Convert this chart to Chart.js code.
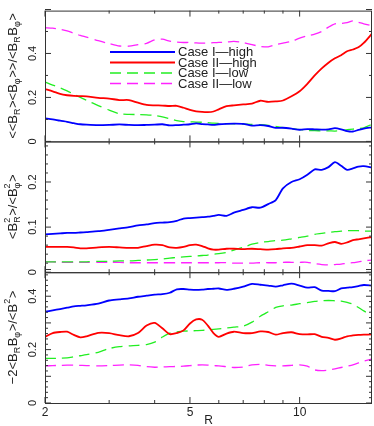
<!DOCTYPE html>
<html>
<head>
<meta charset="utf-8">
<script src="https://cdn.jsdelivr.net/npm/chart.js@4"></script>
<style>
  html, body { margin: 0; padding: 0; background: #fff; }
</style>
</head>
<body>
<canvas id="chart" width="374" height="426"></canvas>
<script>
// radius samples (shared by every curve)
const radius = [2, 2.1, 2.2, 2.3, 2.4, 2.5, 2.6, 2.8, 3.0, 3.2, 3.4, 3.6, 3.8, 4.0, 4.2, 4.4, 4.6, 4.8, 5.0, 5.2, 5.4, 5.6, 5.8, 6.0, 6.3, 6.6, 7.0, 7.4, 7.8, 8.2, 8.6, 9.0, 9.5, 10, 10.5, 11, 11.5, 12, 12.5, 13, 13.5, 14, 14.5, 15, 15.8];

// top panel: <<B_R><B_phi>>/<B_R B_phi>
const topIHigh = [0.105, 0.100, 0.094, 0.089, 0.083, 0.078, 0.076, 0.074, 0.075, 0.077, 0.075, 0.074, 0.075, 0.076, 0.078, 0.073, 0.074, 0.076, 0.078, 0.082, 0.079, 0.077, 0.075, 0.078, 0.080, 0.081, 0.080, 0.072, 0.074, 0.070, 0.062, 0.062, 0.058, 0.053, 0.056, 0.055, 0.054, 0.055, 0.060, 0.055, 0.047, 0.045, 0.052, 0.058, 0.064];
const topIIHigh = [0.238, 0.228, 0.216, 0.210, 0.207, 0.206, 0.205, 0.198, 0.195, 0.188, 0.188, 0.176, 0.166, 0.164, 0.163, 0.161, 0.162, 0.153, 0.143, 0.137, 0.134, 0.133, 0.136, 0.146, 0.160, 0.164, 0.168, 0.172, 0.185, 0.180, 0.182, 0.186, 0.205, 0.228, 0.262, 0.300, 0.332, 0.358, 0.378, 0.392, 0.410, 0.418, 0.428, 0.448, 0.490];
const topILow = [0.270, 0.256, 0.244, 0.230, 0.214, 0.200, 0.187, 0.163, 0.142, 0.126, 0.123, 0.122, 0.121, 0.118, 0.112, 0.103, 0.094, 0.090, 0.089, 0.088, 0.087, 0.085, 0.083, 0.082, 0.081, 0.080, 0.079, 0.077, 0.076, 0.073, 0.068, 0.063, 0.058, 0.054, 0.050, 0.049, 0.048, 0.048, 0.047, 0.049, 0.053, 0.056, 0.058, 0.062, 0.078];
const topIILow = [0.517, 0.515, 0.510, 0.503, 0.492, 0.482, 0.474, 0.458, 0.445, 0.434, 0.433, 0.440, 0.446, 0.462, 0.465, 0.456, 0.452, 0.450, 0.450, 0.448, 0.447, 0.447, 0.449, 0.450, 0.452, 0.455, 0.450, 0.440, 0.432, 0.430, 0.440, 0.447, 0.455, 0.470, 0.480, 0.488, 0.500, 0.520, 0.535, 0.537, 0.540, 0.548, 0.542, 0.535, 0.527];

// middle panel: <B_R^2>/<B_phi^2>
const midIHigh = [0.084, 0.085, 0.086, 0.087, 0.087, 0.088, 0.089, 0.091, 0.094, 0.097, 0.100, 0.104, 0.106, 0.109, 0.110, 0.111, 0.114, 0.119, 0.120, 0.121, 0.122, 0.123, 0.125, 0.127, 0.125, 0.132, 0.138, 0.144, 0.143, 0.151, 0.160, 0.186, 0.200, 0.206, 0.216, 0.228, 0.227, 0.233, 0.244, 0.236, 0.227, 0.230, 0.234, 0.235, 0.232];
const midIIHigh = [0.056, 0.056, 0.056, 0.056, 0.055, 0.053, 0.053, 0.055, 0.056, 0.055, 0.054, 0.054, 0.058, 0.061, 0.060, 0.055, 0.054, 0.056, 0.060, 0.061, 0.058, 0.053, 0.050, 0.050, 0.052, 0.052, 0.051, 0.052, 0.051, 0.050, 0.051, 0.053, 0.054, 0.057, 0.060, 0.060, 0.059, 0.064, 0.067, 0.063, 0.066, 0.071, 0.073, 0.075, 0.078];
const midILow = [0.023, 0.023, 0.023, 0.023, 0.023, 0.023, 0.023, 0.024, 0.024, 0.025, 0.025, 0.026, 0.027, 0.028, 0.029, 0.031, 0.033, 0.034, 0.035, 0.036, 0.037, 0.038, 0.040, 0.041, 0.044, 0.049, 0.055, 0.062, 0.066, 0.068, 0.070, 0.071, 0.074, 0.077, 0.080, 0.084, 0.086, 0.088, 0.090, 0.091, 0.092, 0.092, 0.092, 0.091, 0.091];
const midIILow = [0.023, 0.023, 0.022, 0.022, 0.022, 0.022, 0.022, 0.022, 0.022, 0.022, 0.021, 0.021, 0.021, 0.021, 0.021, 0.021, 0.021, 0.021, 0.021, 0.021, 0.021, 0.021, 0.021, 0.021, 0.021, 0.020, 0.020, 0.020, 0.021, 0.021, 0.021, 0.022, 0.022, 0.022, 0.022, 0.019, 0.017, 0.016, 0.017, 0.018, 0.020, 0.021, 0.023, 0.025, 0.027];

// bottom panel: -2<B_R B_phi>/<B^2>
const botIHigh = [0.342, 0.347, 0.352, 0.357, 0.362, 0.364, 0.366, 0.372, 0.384, 0.388, 0.392, 0.398, 0.402, 0.406, 0.408, 0.413, 0.426, 0.427, 0.425, 0.424, 0.425, 0.427, 0.428, 0.429, 0.424, 0.428, 0.436, 0.446, 0.443, 0.440, 0.436, 0.441, 0.447, 0.440, 0.432, 0.434, 0.421, 0.420, 0.419, 0.429, 0.432, 0.434, 0.438, 0.442, 0.440];
const botIIHigh = [0.248, 0.262, 0.266, 0.267, 0.255, 0.246, 0.250, 0.263, 0.262, 0.254, 0.250, 0.262, 0.290, 0.300, 0.280, 0.258, 0.262, 0.272, 0.298, 0.313, 0.312, 0.290, 0.262, 0.248, 0.260, 0.267, 0.262, 0.262, 0.268, 0.266, 0.256, 0.262, 0.265, 0.258, 0.257, 0.258, 0.248, 0.244, 0.237, 0.242, 0.250, 0.253, 0.255, 0.256, 0.257];
const botILow = [0.167, 0.167, 0.168, 0.169, 0.173, 0.177, 0.181, 0.190, 0.204, 0.211, 0.214, 0.216, 0.219, 0.228, 0.247, 0.262, 0.266, 0.269, 0.270, 0.271, 0.272, 0.274, 0.276, 0.278, 0.281, 0.284, 0.288, 0.303, 0.325, 0.342, 0.358, 0.364, 0.367, 0.372, 0.376, 0.381, 0.383, 0.384, 0.383, 0.382, 0.377, 0.370, 0.358, 0.345, 0.328];
const botIILow = [0.139, 0.140, 0.141, 0.142, 0.142, 0.141, 0.140, 0.139, 0.140, 0.142, 0.143, 0.141, 0.136, 0.134, 0.135, 0.136, 0.137, 0.138, 0.140, 0.142, 0.143, 0.142, 0.140, 0.139, 0.136, 0.133, 0.135, 0.143, 0.145, 0.141, 0.139, 0.139, 0.141, 0.143, 0.138, 0.124, 0.121, 0.123, 0.128, 0.133, 0.138, 0.143, 0.150, 0.157, 0.165];

const caseLabels = ["Case I\u2014high", "Case II\u2014high", "Case I\u2014low", "Case II\u2014low"];

// axis ticks
const xMajorTicks = [2, 5, 10];
const xMinorTicks = [3, 4, 6, 7, 8, 9];
const topTicks = [0, 0.2, 0.4];
const midTicks = [0, 0.1, 0.2];
const botTicks = [0, 0.1, 0.2, 0.3, 0.4];

const family = "'Liberation Sans', Arial, sans-serif";
const ink = "#222";

const caseStyles = [
   { color: "#0000ff", width: 1.8, dash: [] },
   { color: "#ff0000", width: 1.8, dash: [] },
   { color: "#22ee22", width: 1.3, dash: [11, 6] },
   { color: "#ff22ff", width: 1.3, dash: [11, 6] }
];

function makeSets(axisId, seriesList, withLabel) {
   return seriesList.map((values, i) => ({
      label: withLabel ? caseLabels[i] : "",
      data: radius.map((r, k) => ({ x: r, y: values[k] })),
      yAxisID: axisId,
      borderColor: caseStyles[i].color,
      borderWidth: caseStyles[i].width,
      borderDash: caseStyles[i].dash,
      pointRadius: 0,
      tension: 0.25,
      fill: false
   }));
}

const datasets = [].concat(
   makeSets("yTop", [topIHigh, topIIHigh, topILow, topIILow], true),
   makeSets("yMid", [midIHigh, midIIHigh, midILow, midIILow], false),
   makeSets("yBot", [botIHigh, botIIHigh, botILow, botIILow], false)
);

function panelScale(tickValues, max) {
   return {
      type: "linear",
      position: "left",
      stack: "panels",
      stackWeight: 1,
      min: 0,
      max: max,
      afterBuildTicks: s => { s.ticks = tickValues.map(v => ({ value: v })); },
      afterFit: s => { s.width = 45; },
      grid: { display: false, drawTicks: false },
      border: { display: false },
      ticks: {
         font: { size: 11, family: family },
         color: ink,
         padding: 4,
         minRotation: 90,
         maxRotation: 90,
         crossAlign: "center",
         callback: v => String(v)
      }
   };
}

const minorStep = { yTop: 0.1, yMid: 0.02, yBot: 0.02 };
const majorStep = { yTop: 0.2, yMid: 0.1, yBot: 0.1 };

// frame + inward ticks on every panel
const framePlugin = {
   id: "frame",
   afterDatasetsDraw(chart) {
      const ctx = chart.ctx;
      const area = chart.chartArea;
      const xs = chart.scales.x;
      ctx.save();
      ctx.strokeStyle = "#333";
      ctx.lineWidth = 1;
      ["yTop", "yMid", "yBot"].forEach(id => {
         const s = chart.scales[id];
         ctx.strokeRect(area.left + 0.5, s.top + 0.5, area.right - area.left - 1, s.bottom - s.top);
         ctx.beginPath();
         const n = Math.round((s.max - s.min) / minorStep[id]);
         for (let i = 0; i <= n; i++) {
            const v = s.min + i * minorStep[id];
            const y = s.getPixelForValue(v);
            const ratio = v / majorStep[id];
            const len = Math.abs(ratio - Math.round(ratio)) < 1e-6 ? 6 : 3;
            ctx.moveTo(area.left, y); ctx.lineTo(area.left + len, y);
            ctx.moveTo(area.right, y); ctx.lineTo(area.right - len, y);
         }
         xMajorTicks.concat(xMinorTicks).forEach(r => {
            const x = xs.getPixelForValue(r);
            const len = xMajorTicks.includes(r) ? 6 : 3;
            ctx.moveTo(x, s.bottom); ctx.lineTo(x, s.bottom - len);
            ctx.moveTo(x, s.top); ctx.lineTo(x, s.top + len);
         });
         ctx.stroke();
      });
      ctx.restore();
   }
};

// rotated y-axis titles with sub/superscripts
const yTitles = {
   yTop: [{ t: "<<B" }, { sub: "R" }, { t: "><B" }, { sub: "\u03c6" }, { t: ">>/<B" }, { sub: "R" }, { t: "B" }, { sub: "\u03c6" }, { t: ">" }],
   yMid: [{ t: "<B" }, { sub: "R", sup: "2" }, { t: ">/<B" }, { sub: "\u03c6", sup: "2" }, { t: ">" }],
   yBot: [{ t: "\u22122<B" }, { sub: "R" }, { t: "B" }, { sub: "\u03c6" }, { t: ">/<B" }, { sup: "2" }, { t: ">" }]
};

function drawRotatedRich(ctx, parts, cx, cy, size) {
   const small = Math.round(size * 0.7);
   const bigFont = size + "px " + family;
   const smallFont = small + "px " + family;
   const partWidth = p => {
      if (p.t) { ctx.font = bigFont; return ctx.measureText(p.t).width; }
      ctx.font = smallFont;
      return Math.max(p.sub ? ctx.measureText(p.sub).width : 0, p.sup ? ctx.measureText(p.sup).width : 0) + 0.5;
   };
   const total = parts.reduce((acc, p) => acc + partWidth(p), 0);
   ctx.save();
   ctx.translate(cx, cy);
   ctx.rotate(-Math.PI / 2);
   ctx.fillStyle = ink;
   ctx.textBaseline = "alphabetic";
   const base = size * 0.35;
   let u = -total / 2;
   parts.forEach(p => {
      const w = partWidth(p);
      if (p.t) {
         ctx.font = bigFont;
         ctx.fillText(p.t, u, base);
      } else {
         ctx.font = smallFont;
         if (p.sub) ctx.fillText(p.sub, u, base + size * 0.3);
         if (p.sup) ctx.fillText(p.sup, u, base - size * 0.48);
      }
      u += w;
   });
   ctx.restore();
}

const annotatePlugin = {
   id: "annotate",
   afterDraw(chart, args, opts) {
      const ctx = chart.ctx;
      ["yTop", "yMid", "yBot"].forEach(id => {
         const s = chart.scales[id];
         drawRotatedRich(ctx, yTitles[id], opts.titleX, (s.top + s.bottom) / 2, 13);
      });
      // legend for the top panel
      const lg = opts.legend;
      ctx.save();
      ctx.font = "13px " + family;
      ctx.textBaseline = "middle";
      ctx.fillStyle = ink;
      chart.data.datasets.filter(d => d.label).forEach((d, i) => {
         const y = lg.y + i * lg.rowHeight;
         ctx.strokeStyle = d.borderColor;
         ctx.lineWidth = d.borderWidth;
         ctx.setLineDash(d.borderDash);
         ctx.beginPath();
         ctx.moveTo(lg.x, y);
         ctx.lineTo(lg.x + lg.lineLength, y);
         ctx.stroke();
         ctx.setLineDash([]);
         ctx.fillText(d.label, lg.x + lg.lineLength + 3, y + 0.5);
      });
      ctx.restore();
   }
};

new Chart(document.getElementById("chart").getContext("2d"), {
   type: "line",
   data: { datasets: datasets },
   options: {
      responsive: false,
      animation: false,
      layout: { padding: { top: 1, right: 2, left: 0, bottom: 0 } },
      scales: {
         x: {
            type: "logarithmic",
            position: "bottom",
            min: 2,
            max: 15.8,
            afterBuildTicks: s => { s.ticks = xMajorTicks.map(v => ({ value: v })); },
            afterFit: s => { s.height = 23; },
            grid: { display: false, drawTicks: false },
            border: { display: false },
            ticks: {
               font: { size: 12, family: family },
               color: ink,
               padding: 2,
               maxRotation: 0,
               autoSkip: false,
               callback: v => String(v)
            },
            title: { display: true, text: "R", font: { size: 12, family: family }, color: ink, padding: { top: 0, bottom: -2 } }
         },
         yBot: panelScale(botTicks, 0.49),
         yMid: panelScale(midTicks, 0.29),
         yTop: panelScale(topTicks, 0.595)
      },
      plugins: {
         legend: { display: false },
         tooltip: { enabled: false },
         annotate: {
            titleX: 12,
            legend: { x: 110, y: 52, lineLength: 65, rowHeight: 10.5 }
         }
      }
   },
   plugins: [framePlugin, annotatePlugin]
});
</script>
</body>
</html>
